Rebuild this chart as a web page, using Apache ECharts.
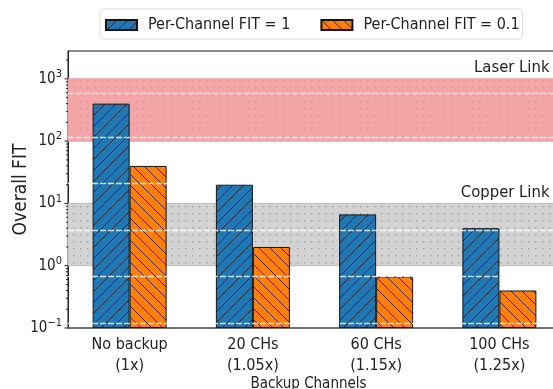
<!DOCTYPE html>
<html>
<head>
<meta charset="utf-8">
<script src="https://cdn.jsdelivr.net/npm/echarts@6/dist/echarts.min.js"></script>
<style>
  html, body { margin: 0; padding: 0; background: #fff; }
  #chart { width: 553px; height: 389px; }
</style>
</head>
<body>
<div id="chart"></div>
<script>
// Overall FIT for each backup-channel configuration
const categories = ['No backup', '20 CHs', '60 CHs', '100 CHs'];
const overheads = ['(1x)', '(1.05x)', '(1.15x)', '(1.25x)'];
const seriesNames = ['Per-Channel FIT = 1', 'Per-Channel FIT = 0.1'];
const fitPerChannel1 = [400, 20, 6.67, 4];
const fitPerChannel01 = [40, 2, 0.667, 0.4];

// Reference bands (FIT ranges of plain links)
const bandNames = ['Laser Link', 'Copper Link'];
const laserBand = [100, 1000];
const copperBand = [1, 10];

// Log axis ticks
const majorTicks = [0.1, 1, 10, 100, 1000];
const minorTicks = [
  0.2, 0.3, 0.4, 0.5, 0.6, 0.7, 0.8, 0.9,
  2, 3, 4, 5, 6, 7, 8, 9,
  20, 30, 40, 50, 60, 70, 80, 90,
  200, 300, 400, 500, 600, 700, 800, 900,
  2000
];
// White dashed guide lines across the plot
const guideLevels = [578, 116, 21, 3.74, 0.684, 0.122];

const FONT = "'DejaVu Sans Condensed', 'DejaVu Sans', sans-serif";
const INK = '#222';

// Hatched fill tile: dir 1 => '/', dir -1 => '\'
function hatchTile(fill, dir) {
  const s = 11;
  const c = document.createElement('canvas');
  c.width = s; c.height = s;
  const g = c.getContext('2d');
  g.fillStyle = fill;
  g.fillRect(0, 0, s, s);
  g.strokeStyle = 'rgba(10,10,10,0.85)';
  g.lineWidth = 0.9;
  g.beginPath();
  if (dir > 0) {
    for (const k of [0, s, 2 * s]) { g.moveTo(k + 1, -1); g.lineTo(k - s - 1, s + 1); }
  } else {
    for (const k of [-s, 0, s]) { g.moveTo(k - 1, -1); g.lineTo(k + s + 1, s + 1); }
  }
  g.stroke();
  return { image: c, repeat: 'repeat' };
}

// Dotted fill tile for the bands
function dotTile(fill, dot) {
  const w = 7, h = 7;
  const c = document.createElement('canvas');
  c.width = w; c.height = h;
  const g = c.getContext('2d');
  g.fillStyle = fill;
  g.fillRect(0, 0, w, h);
  g.fillStyle = dot;
  g.fillRect(3, 3, 1.4, 1.4);
  return { image: c, repeat: 'repeat' };
}

function axisTickSeries(values, len) {
  return {
    type: 'custom',
    silent: true,
    z: 4,
    clip: false,
    encode: { x: 0, y: 1 },
    data: values.map(v => [0, v]),
    renderItem: (params, api) => {
      const y = api.coord([0, api.value(1)])[1];
      const x0 = params.coordSys.x;
      return {
        type: 'line',
        shape: { x1: x0 - len, y1: y, x2: x0, y2: y },
        style: { stroke: '#222', lineWidth: 1 }
      };
    }
  };
}

const chart = echarts.init(document.getElementById('chart'), null, { renderer: 'canvas' });

const bandLabel = {
  show: true,
  position: ['100%', 0],
  align: 'right',
  verticalAlign: 'bottom',
  offset: [-12, -2],
  fontFamily: FONT,
  fontSize: 16.5,
  color: INK,
  formatter: '{b}'
};

chart.setOption({
  animation: false,
  backgroundColor: '#fff',
  textStyle: { fontFamily: FONT },
  legend: {
    data: seriesNames,
    left: 100,
    top: 9,
    padding: [8, 3, 6, 5],
    itemGap: 30,
    itemWidth: 31,
    itemHeight: 10,
    icon: 'rect',
    selectedMode: false,
    backgroundColor: '#fff',
    borderColor: '#dcdcdc',
    borderWidth: 1,
    borderRadius: 4,
    textStyle: { fontFamily: FONT, fontSize: 16, color: INK, padding: [0, 0, 0, 6] }
  },
  grid: {
    left: 68, top: 51, width: 493, height: 277,
    outerBoundsMode: 'none',
    containLabel: false,
    show: true, borderColor: '#1a1a1a', borderWidth: 1, backgroundColor: '#fff'
  },
  xAxis: {
    type: 'category',
    data: categories,
    name: 'Backup Channels',
    nameLocation: 'middle',
    nameMoveOverlap: false,
    nameGap: 49,
    nameTextStyle: { fontFamily: FONT, fontSize: 15, color: INK, padding: [0, 12, 0, 0] },
    axisLine: { show: true, lineStyle: { color: '#666', width: 1.5 } },
    axisTick: { show: false },
    axisLabel: {
      margin: 6,
      fontFamily: FONT, fontSize: 16, color: INK, lineHeight: 21,
      formatter: (v, i) => v + '\n' + overheads[i]
    },
    splitLine: { show: false }
  },
  yAxis: {
    type: 'log',
    logBase: 10,
    min: 0.1,
    max: 2800,
    startValue: 0.1,
    name: 'Overall FIT',
    nameLocation: 'middle',
    nameMoveOverlap: false,
    nameGap: 37,
    nameRotate: 90,
    nameTextStyle: { fontFamily: FONT, fontSize: 19, color: INK },
    axisLine: { show: true, lineStyle: { color: '#222', width: 1 } },
    axisTick: { show: false },
    splitLine: { show: false },
    axisLabel: {
      margin: 6,
      formatter: v => {
        const e = Math.log10(v);
        const r = Math.round(e);
        if (Math.abs(e - r) > 1e-6) return '';
        return '{b|10}{s|' + (r < 0 ? '\u2212' + (-r) : r) + '}';
      },
      rich: {
        b: { fontFamily: FONT, fontSize: 15, color: INK, lineHeight: 20 },
        s: { fontFamily: FONT, fontSize: 11, color: INK, lineHeight: 12, verticalAlign: 'top' }
      }
    }
  },
  series: [
    {
      // reference bands and guide lines
      type: 'line',
      data: [],
      silent: true,
      markArea: {
        silent: true,
        label: bandLabel,
        data: [
          [
            { name: bandNames[0], yAxis: laserBand[0],
              itemStyle: { color: dotTile('#f4a5a8', 'rgba(200,120,125,0.45)'), borderColor: '#e79a9c', borderWidth: 1 } },
            { yAxis: laserBand[1] }
          ],
          [
            { name: bandNames[1], yAxis: copperBand[0],
              itemStyle: { color: dotTile('#d3d3d3', 'rgba(140,140,140,0.7)'), borderColor: '#bdbdbd', borderWidth: 1 } },
            { yAxis: copperBand[1] }
          ]
        ]
      },
      markLine: {
        silent: true,
        symbol: ['none', 'none'],
        label: { show: false },
        lineStyle: { color: 'rgba(255,255,255,0.8)', type: [6, 2], width: 1.3 },
        data: guideLevels.map(v => ({ yAxis: v }))
      }
    },
    {
      name: seriesNames[0],
      type: 'bar',
      data: fitPerChannel1,
      barWidth: 37,
      barGap: '0%',
      z: 2,
      itemStyle: { color: hatchTile('#1f77b4', 1), borderColor: '#151515', borderWidth: 1 }
    },
    {
      name: seriesNames[1],
      type: 'bar',
      data: fitPerChannel01,
      barWidth: 37,
      barGap: '0%',
      z: 2,
      itemStyle: { color: hatchTile('#ff7f0e', -1), borderColor: '#151515', borderWidth: 1 }
    },
    axisTickSeries(majorTicks, 3.5),
    axisTickSeries(minorTicks, 2)
  ]
});
</script>
</body>
</html>
